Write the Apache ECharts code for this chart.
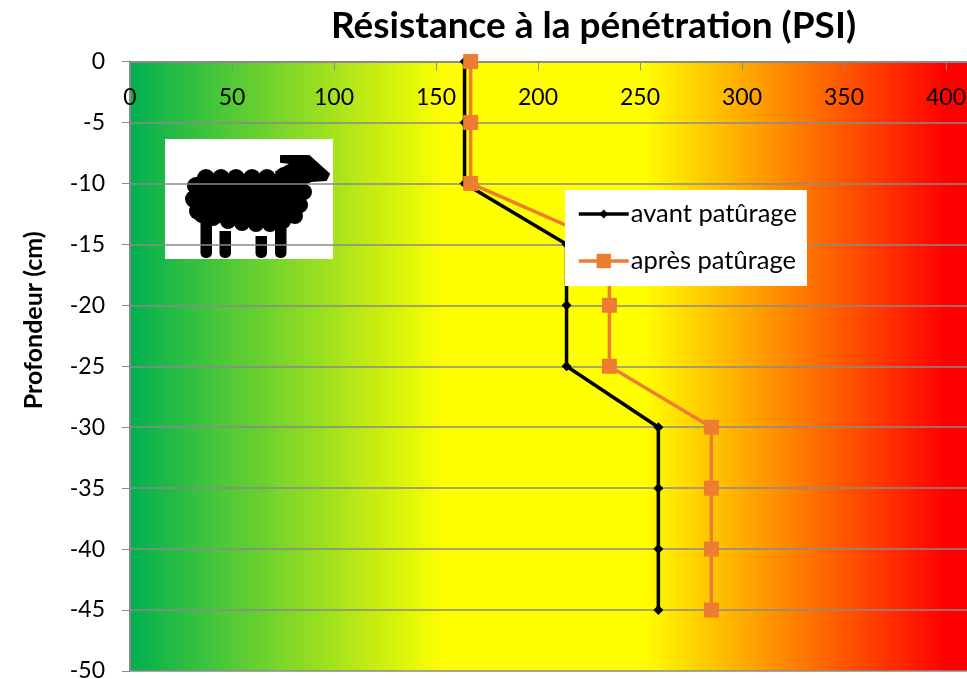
<!DOCTYPE html>
<html>
<head>
<meta charset="utf-8">
<style>
  html, body { margin: 0; padding: 0; background: #fff; }
  #chart { width: 967px; height: 679px; }
</style>
<script src="https://cdn.jsdelivr.net/npm/echarts@6/dist/echarts.min.js"></script>
</head>
<body>
<div id="chart"></div>
<script>
const depths = [0, -5, -10, -15, -20, -25, -30, -35, -40, -45]
const avantValues = [164, 164, 164, 214, 214, 214, 259, 259, 259, 259]
const apresValues = [167, 167, 167, 235, 235, 235, 285, 285, 285, 285]
const xTicks = [0, 50, 100, 150, 200, 250, 300, 350, 400]

const FONT = 'Lato'
const GREY = '#8a8a8a'

// sheep picture, drawn as plain shapes on top of the white box
const woolBumps = [
  [206, 178, 9], [221, 178, 9], [236, 178, 9], [252, 178, 9], [267, 178, 9], [284, 176, 9],
  [196, 186, 9], [194, 199, 9], [198, 211, 9], [213, 218, 8], [228, 221, 8], [242, 223, 8],
  [256, 224, 8], [270, 224, 8], [283, 221, 8], [295, 216, 8], [300, 205, 8], [304, 192, 8]
]
const sheepChildren = [
  { type: 'rect', shape: { x: 165, y: 139, width: 168, height: 120 }, style: { fill: '#fff' } },
  { type: 'rect', shape: { x: 194, y: 175, width: 108, height: 48, r: 8 }, style: { fill: '#000' } },
  { type: 'polygon', shape: { points: [[281, 156], [309, 156], [329, 174], [326, 180], [311, 181], [292, 190], [276, 172], [292, 163], [281, 162]] }, style: { fill: '#000', stroke: '#000', lineWidth: 2, lineJoin: 'round' } },
  { type: 'rect', shape: { x: 200.5, y: 215, width: 11.5, height: 43, r: 5 }, style: { fill: '#000' } },
  { type: 'rect', shape: { x: 219.5, y: 231, width: 11.5, height: 27, r: [0, 0, 5, 5] }, style: { fill: '#000' } },
  { type: 'rect', shape: { x: 255.5, y: 236, width: 11.5, height: 22, r: [0, 0, 5, 5] }, style: { fill: '#000' } },
  { type: 'rect', shape: { x: 275, y: 220, width: 11.5, height: 38, r: 5 }, style: { fill: '#000' } }
].concat(woolBumps.map(b => ({
  type: 'circle',
  shape: { cx: b[0], cy: b[1], r: b[2] },
  style: { fill: '#000' }
})))

const chart = echarts.init(document.getElementById('chart'), null, { renderer: 'canvas' })

// two stacked legends, their white backgrounds make up the one white box
const legendBase = {
  orient: 'vertical',
  left: 565,
  itemWidth: 50,
  backgroundColor: '#fff',
  lineStyle: { width: 3.5 },
  textStyle: { fontFamily: FONT, fontSize: 25.5, color: '#000', padding: [0, 0, 0, -3] }
}

const option = {
  animation: false,
  textStyle: { fontFamily: FONT },
  title: {
    text: 'Résistance à la pénétration (PSI)',
    left: 588.5,
    top: 3,
    textAlign: 'center',
    textStyle: { fontFamily: FONT, fontSize: 37, fontWeight: 'bold', color: '#000' }
  },
  grid: {
    left: 130,
    right: 0,
    top: 61.5,
    bottom: 8,
    show: true,
    borderWidth: 0,
    outerBoundsMode: 'none',
    backgroundColor: new echarts.graphic.LinearGradient(0, 0, 1, 0, [
      { offset: 0, color: '#00b050' },
      { offset: 0.376, color: '#ffff00' },
      { offset: 0.613, color: '#ffff00' },
      { offset: 0.975, color: '#ff0000' },
      { offset: 1, color: '#ff0000' }
    ])
  },
  xAxis: {
    type: 'value',
    position: 'top',
    min: 0,
    max: 410.3,
    axisLine: { show: true, lineStyle: { color: GREY, width: 2 } },
    axisTick: { show: true, inside: true, length: 9, customValues: xTicks, lineStyle: { color: GREY, width: 1 } },
    splitLine: { show: false },
    axisLabel: {
      inside: true,
      customValues: xTicks,
      margin: 25,
      color: '#000',
      fontFamily: FONT,
      fontSize: 23
    }
  },
  yAxis: {
    type: 'value',
    min: -50,
    max: 0,
    interval: 5,
    name: 'Profondeur (cm)',
    nameLocation: 'middle',
    nameGap: 84,
    nameTextStyle: { fontFamily: FONT, fontSize: 25, fontWeight: 'bold', color: '#000', padding: [0, 0, 0, 92] },
    axisLine: { show: true, lineStyle: { color: GREY, width: 2 } },
    axisTick: { show: true, length: 8, lineStyle: { color: GREY, width: 1 } },
    splitLine: { show: true, lineStyle: { color: GREY, width: 1.5 } },
    axisLabel: { margin: 25, color: '#000', fontFamily: FONT, fontSize: 23 }
  },
  legend: [
    Object.assign({}, legendBase, { top: 190, padding: [11, 10, 10, 12], itemHeight: 11, data: ['avant patûrage'] }),
    Object.assign({}, legendBase, { top: 237, padding: [11, 11, 12, 12], itemHeight: 18, data: ['après patûrage'] })
  ],
  series: [
    {
      name: 'avant patûrage',
      type: 'line',
      clip: false,
      data: avantValues.map((v, i) => [v, depths[i]]),
      symbol: 'diamond',
      symbolSize: 10,
      lineStyle: { color: '#000', width: 3.5 },
      itemStyle: { color: '#000' }
    },
    {
      name: 'après patûrage',
      type: 'line',
      clip: false,
      data: apresValues.map((v, i) => [v, depths[i]]),
      symbol: 'rect',
      symbolSize: 15,
      lineStyle: { color: '#ed7d31', width: 3.5 },
      itemStyle: { color: '#ed7d31' }
    }
  ],
  graphic: [{ type: 'group', children: sheepChildren }]
}

chart.setOption(option)
</script>
</body>
</html>
